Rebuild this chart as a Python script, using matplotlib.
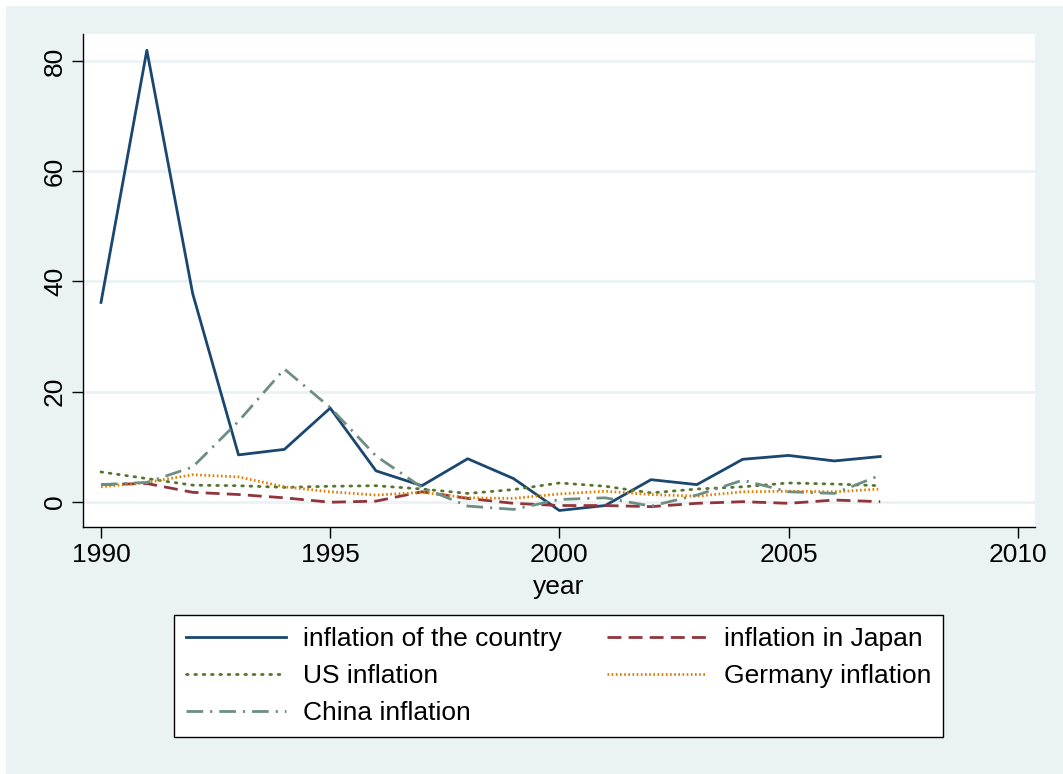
import matplotlib
matplotlib.use("Agg")
import matplotlib.pyplot as plt
from matplotlib.patches import Rectangle

plt.rcParams['font.family'] = ['Liberation Sans', 'DejaVu Sans']

# data
years = list(range(1990, 2008))
country = [36.2, 82.0, 37.8, 8.5, 9.5, 17.0, 5.6, 2.9, 7.8, 4.2, -1.6, -0.7, 4.0, 3.1, 7.7, 8.4, 7.4, 8.2]
japan = [3.1, 3.3, 1.7, 1.3, 0.7, -0.1, 0.1, 1.8, 0.6, -0.3, -0.7, -0.7, -0.9, -0.3, 0.0, -0.3, 0.3, 0.0]
us = [5.4, 4.2, 3.0, 2.9, 2.6, 2.8, 2.9, 2.3, 1.5, 2.2, 3.4, 2.8, 1.6, 2.3, 2.7, 3.4, 3.2, 2.9]
germany = [2.7, 3.5, 4.9, 4.5, 2.7, 1.8, 1.2, 1.7, 0.7, 0.6, 1.4, 1.9, 1.3, 1.0, 1.8, 1.9, 1.8, 2.3]
china = [3.1, 3.5, 6.3, 14.6, 24.1, 17.1, 8.3, 2.6, -0.8, -1.4, 0.4, 0.7, -0.8, 1.2, 3.9, 1.8, 1.5, 4.8]

x_ticks = [1990, 1995, 2000, 2005, 2010]
y_ticks = [0, 20, 40, 60, 80]

BG = '#EAF2F3'
W, H = 1063, 774
FS = 19

fig = plt.figure(figsize=(W / 100, H / 100), dpi=100, facecolor='white')
fig.patches.append(Rectangle((6 / W, 0), 1, 1 - 6 / H, transform=fig.transFigure,
                             facecolor=BG, edgecolor='none', zorder=-10))

ax = fig.add_axes([83 / W, 1 - 527 / H, (1035 - 83) / W, (527 - 34) / H])
ax.set_facecolor('white')

ax.plot(years, country, color='#1A476F', lw=2, ls='-', label='inflation of the country')
ax.plot(years, japan, color='#90353B', lw=2, ls=(0, (5, 2.6)), label='inflation in Japan')
ax.plot(years, us, color='#55752F', lw=2, ls=(0, (0.6, 2.4)), label='US inflation', dash_capstyle='round')
ax.plot(years, germany, color='#E37E00', lw=2, ls=(0, (0.6, 0.9)), label='Germany inflation')
ax.plot(years, china, color='#6E8E84', lw=2, ls=(0, (6, 2.5, 0.8, 2.5)), label='China inflation')

ax.set_xlim(1989.607, 2010.377)
ax.set_ylim(-4.6, 84.96)
ax.set_xticks(x_ticks)
ax.set_yticks(y_ticks)
ax.grid(axis='y', color=BG, lw=2)
ax.set_axisbelow(True)
for s in ['top', 'right']:
    ax.spines[s].set_visible(False)
for s in ['left', 'bottom']:
    ax.spines[s].set_color('black')
    ax.spines[s].set_linewidth(1)
ax.tick_params(length=8, width=1, labelsize=FS, color='black')
plt.setp(ax.get_yticklabels(), rotation=90, va='center')
ax.set_xlabel('year', fontsize=FS, labelpad=6)

handles, labels = ax.get_legend_handles_labels()
order = [0, 2, 4, 1, 3]
leg = fig.legend([handles[i] for i in order], [labels[i] for i in order],
                 ncol=2, loc='center', bbox_to_anchor=(558.5 / W, 1 - 676 / H),
                 fontsize=FS, frameon=True, fancybox=False, edgecolor='black',
                 facecolor='white', framealpha=1,
                 handlelength=3.8, handletextpad=0.64, columnspacing=1.7,
                 labelspacing=0.5, borderpad=0.45)
leg.get_frame().set_linewidth(1)

fig.savefig('out.png', dpi=100, facecolor=fig.get_facecolor())
